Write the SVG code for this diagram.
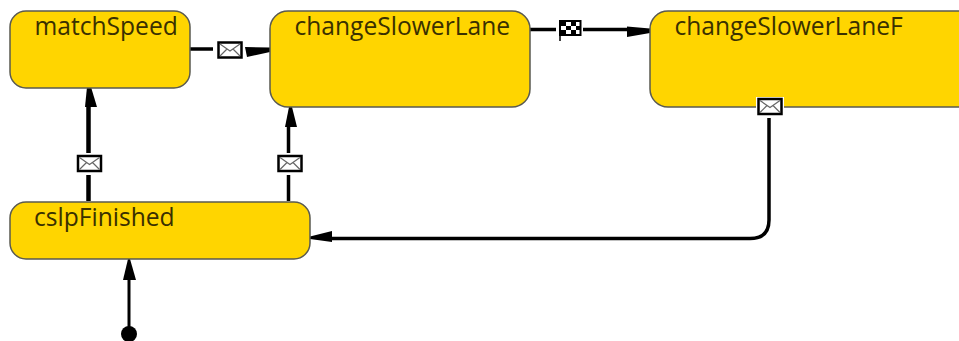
<svg xmlns="http://www.w3.org/2000/svg" width="959" height="341" viewBox="0 0 959 341">
<style>
.n{fill:#ffd500;stroke:#5a5a50;stroke-width:1.500}
.t{font-family:"Open Sans","Liberation Sans",sans-serif;font-size:24.600px;fill:#3a3000}
.c{fill:none;stroke:#000;stroke-width:3.500}
.e{fill:#fff;stroke:#000;stroke-width:2.500}
.f{fill:none;stroke:#666;stroke-width:1.200}
.h{fill:#000}
</style>
<defs>
<g id="env"><rect class="e" x="-11.500" y="-7.500" width="23" height="15"/><path class="f" d="M-10-6L0 1L10-6M-10 6L-3-1M10 6L3-1"/></g>
</defs>
<rect width="959" height="341" fill="#fff"/>
<g id="connectors">
<path class="c" d="M190 49H213"/>
<path class="h" d="M270 47.500V52L247 57L245 47Z"/>
<path class="c" d="M530 29.500H556M583 29.500H630"/>
<path class="h" d="M627 26.500L650 28.500V33L627 37Z"/>
<path class="c" style="stroke-width:4.500" d="M88.500 201V175M88.500 153V105"/>
<path class="h" d="M87 87H91L97 107H85Z"/>
<path class="c" d="M288.500 201V175M288.500 153V125"/>
<path class="h" d="M289 107H292L297 127H285Z"/>
<path class="c" d="M769 118V220Q769 238.500 750 238.500H330"/>
<path class="h" d="M310 236.500L332 231V242L310 239Z"/>
<path class="c" style="stroke-width:3" d="M129 330V278"/>
<path class="h" d="M128 259H130L136 280H123Z"/>
<circle cx="129" cy="334" r="8" fill="#000"/>
<use href="#env" x="230" y="50"/>
<use href="#env" x="89.500" y="163.500"/>
<use href="#env" x="290" y="163.500"/>
<rect x="560" y="21" width="20.500" height="14" fill="#fff" stroke="#000" stroke-width="2"/>
<path d="M561 22h5v4h-5zM571 22h5v4h-5zM566 26h5v4h-5zM576 26h4v4h-4zM561 30h5v4h-5zM571 30h5v4h-5z" fill="#000"/>
<path d="M560 35v6" stroke="#000" stroke-width="1.500"/>
</g>
<g id="matchSpeed"><rect class="n" x="10" y="11" width="180" height="77" rx="16"/><text class="t" x="34.500" y="35">matchSpeed</text></g>
<g id="changeSlowerLane"><rect class="n" x="270" y="11" width="260" height="96" rx="18"/><text class="t" x="294.500" y="35">changeSlowerLane</text></g>
<g id="changeSlowerLaneF"><rect class="n" x="650" y="11" width="330" height="96" rx="18"/><text class="t" x="674.500" y="35">changeSlowerLaneF</text></g>
<g id="cslpFinished"><rect class="n" x="10" y="202" width="300" height="57" rx="16"/><text class="t" x="34" y="226">cslpFinished</text></g>
<rect x="756" y="97" width="28" height="19" fill="#fff"/>
<use href="#env" x="770" y="106.500"/>
</svg>
